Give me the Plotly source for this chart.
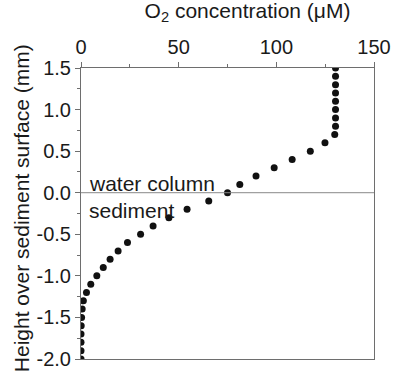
import plotly.graph_objects as go

# O2 concentration (µM) vs height over sediment surface (mm)
height_mm = [1.5, 1.4, 1.3, 1.2, 1.1, 1.0, 0.9, 0.8, 0.7, 0.6, 0.5, 0.4, 0.3, 0.2, 0.1, 0.0,
             -0.1, -0.2, -0.3, -0.4, -0.5, -0.6, -0.7, -0.8, -0.9, -1.0, -1.1, -1.2, -1.3,
             -1.4, -1.5, -1.6, -1.7, -1.8, -1.9, -2.0]
o2_uM = [130.3, 130.3, 130.3, 130.3, 130.3, 130.3, 130.3, 130.3, 129.9, 124.9, 117.4, 108.1,
         98.9, 89.6, 81.3, 75.0, 65.4, 54.3, 45.0, 36.9, 30.5, 23.8, 19.0, 14.9, 11.4, 8.1,
         5.0, 2.8, 1.2, 0.6, 0.3, 0.1, 0.0, 0.0, 0.0, 0.0]

x_ticks = [0, 50, 100, 150]
y_ticks = [1.5, 1.0, 0.5, 0.0, -0.5, -1.0, -1.5, -2.0]
y_tick_labels = ["1.5", "1.0", "0.5", "0.0", "-0.5", "-1.0", "-1.5", "-2.0"]

FONT = "Liberation Sans, Arial, sans-serif"
TXT = "#1a1a1a"
AX = "#6e6e6e"

fig = go.Figure()
fig.add_trace(go.Scatter(
    x=o2_uM, y=height_mm, mode="markers",
    marker=dict(size=7, color="#111111"),
    cliponaxis=True, showlegend=False, hoverinfo="skip",
))

fig.add_shape(type="line", xref="x", yref="y", x0=0, x1=150, y0=0, y1=0,
              line=dict(color="#888888", width=1))

fig.add_annotation(x=3, y=0, xref="x", yref="y", text="water column", showarrow=False,
                   xanchor="left", yanchor="bottom", yshift=-4,
                   font=dict(family=FONT, size=21, color=TXT))
fig.add_annotation(x=3, y=0, xref="x", yref="y", text="sediment", showarrow=False,
                   xanchor="left", yanchor="top", yshift=-4,
                   font=dict(family=FONT, size=21, color=TXT))

# y axis title as rotated annotation (placed slightly below the plot centre as in the reference)
fig.add_annotation(x=-0.205, y=0.518, xref="paper", yref="paper",
                   xanchor="center", yanchor="middle", textangle=-90,
                   text="Height over sediment surface (mm)", showarrow=False,
                   font=dict(family=FONT, size=21, color=TXT))

fig.update_layout(
    width=401, height=380,
    margin=dict(l=81, r=19, t=68, b=10, pad=0),
    paper_bgcolor="white", plot_bgcolor="white",
    font=dict(family=FONT, size=20, color=TXT),
    title=dict(text="O<sub>2</sub> concentration (μM)", x=247.5 / 401, xanchor="center",
               xref="container", y=1 - 3 / 380, yref="container", yanchor="top",
               font=dict(family=FONT, size=21, color=TXT)),
    xaxis=dict(
        side="top", range=[0, 150], tickvals=x_ticks, ticks="outside", ticklen=5,
        tickcolor=AX, tickwidth=1, showline=True, linecolor=AX, linewidth=1, mirror=True,
        showgrid=False, zeroline=False,
        tickfont=dict(family=FONT, size=20, color=TXT),
        minor=dict(ticks="outside", ticklen=3, tickcolor=AX, dtick=25, showgrid=False),
    ),
    yaxis=dict(
        range=[-2, 1.5], tickvals=y_ticks, ticktext=y_tick_labels, ticks="outside", ticklen=5,
        tickcolor=AX, tickwidth=1, showline=True, linecolor=AX, linewidth=1, mirror=True,
        showgrid=False, zeroline=False,
        tickfont=dict(family=FONT, size=20, color=TXT),
        minor=dict(ticks="outside", ticklen=3, tickcolor=AX, dtick=0.25, showgrid=False),
    ),
)

fig.write_html("out.html")
